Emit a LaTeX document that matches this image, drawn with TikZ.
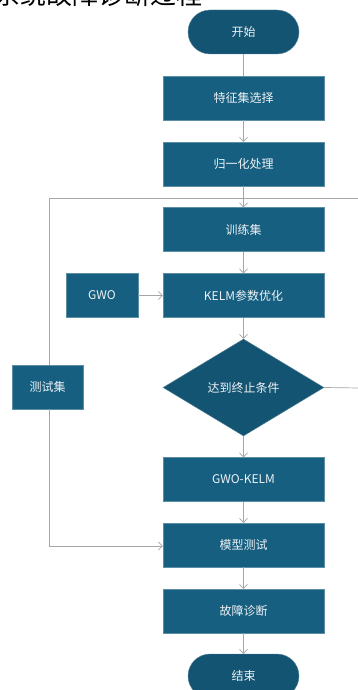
\documentclass[tikz,border=0pt]{standalone}
\usepackage{fontspec}
\setmainfont{Noto Sans CJK SC}
\newfontfamily\cjk{Noto Sans CJK SC}
\usetikzlibrary{arrows.meta,shapes.geometric,shapes.misc}
\definecolor{boxc}{HTML}{165F80}
\definecolor{termc}{HTML}{135472}
\definecolor{linec}{HTML}{A6A6A6}
\definecolor{txtc}{HTML}{EEF2F5}
\tikzset{
  procbox/.style={draw=boxc!70!white, line width=0.4pt, fill=boxc, text=txtc, minimum width=161pt, minimum height=44pt, inner sep=0pt, font=\cjk\fontsize{12}{14}\selectfont},
  termbox/.style={draw=termc!70!white, line width=0.4pt, fill=termc, text=txtc, rounded rectangle, minimum width=111pt, minimum height=44pt, inner sep=0pt, font=\cjk\fontsize{12}{14}\selectfont},
  decbox/.style={draw=termc!70!white, line width=0.4pt, fill=termc, text=txtc, diamond, aspect=1.66, minimum width=161pt, minimum height=97pt, inner sep=0pt, font=\cjk\fontsize{12}{14}\selectfont},
  conn/.style={draw=linec, line width=0.7pt},
  arr/.style={conn, -{Straight Barb[length=4pt,width=8pt]}}
}
\begin{document}
\begin{tikzpicture}[x=1pt,y=1pt]
\useasboundingbox (0,0) rectangle (358,-690);
\begin{scope}
\clip (0,0) rectangle (358,-690);
\node[anchor=south west, inner sep=0pt, font=\cjk\fontsize{26}{28}\selectfont, text=black] (title) at (-6,-7) {系统故障诊断过程};
\node[termbox] (start) at (243.5,-32) {开始};
\node[procbox] (feat) at (243.5,-98) {特征集选择};
\node[procbox] (norm) at (243.5,-164) {归一化处理};
\node[procbox] (train) at (243.5,-229.5) {训练集};
\node[procbox] (kelm) at (243.5,-295.5) {KELM参数优化};
\node[procbox, minimum width=72pt] (gwo) at (102,-295.5) {GWO};
\node[decbox] (cond) at (243.5,-387.5) {达到终止条件};
\node[procbox, minimum width=71pt] (test) at (47.5,-387) {测试集};
\node[procbox] (model) at (243.5,-479.5) {GWO-KELM};
\node[procbox] (mtest) at (243.5,-545) {模型测试};
\node[procbox] (diag) at (243.5,-611) {故障诊断};
\node[termbox] (stop) at (243.5,-676) {结束};
\coordinate (lt) at (49,-198);
\coordinate (rt) at (360,-198);
\coordinate (rd) at (360,-388);
\coordinate (lb) at (49,-546);
\draw[conn] (start) -- (feat);
\draw[arr] (feat) -- (norm);
\draw[arr] (norm) -- (train);
\draw[conn] (lt) -- (rt);
\draw[conn] (lt) -- (test.north -| lt);
\draw[conn] (test.south -| lb) -- (lb);
\draw[arr] (lb) -- (lb -| mtest.west);
\draw[arr] (train) -- (kelm);
\draw[arr] (gwo) -- (kelm);
\draw[arr] (kelm) -- (cond);
\draw[conn] (cond.east) -- (rd);
\draw[arr] (cond) -- (model);
\draw[arr] (model) -- (mtest);
\draw[arr] (mtest) -- (diag);
\draw[arr] (diag) -- (stop);
\end{scope}
\end{tikzpicture}
\end{document}
